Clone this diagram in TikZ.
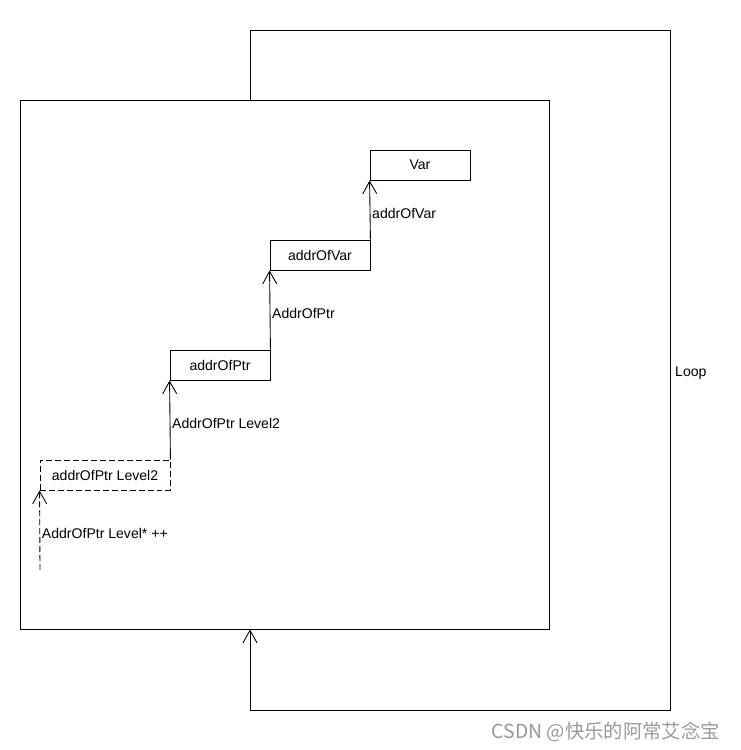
\documentclass[tikz,border=0pt]{standalone}
\usepackage{fontspec}
\setmainfont{Liberation Sans}
\newfontfamily\cjk{Noto Sans CJK SC}
\usetikzlibrary{arrows.meta}
\begin{document}
\begin{tikzpicture}[x=0.02cm,y=-0.02cm,line width=0.5pt,
        font=\fontsize{8}{10}\selectfont,
        box/.style={draw,rectangle,inner sep=0pt,minimum width=2cm,minimum height=0.6cm},
        link/.style={-{Straight Barb[length=0.25cm,width=0.28cm]}},
        lbl/.style={right,inner sep=1pt,yshift=-1.7pt}]
            \useasboundingbox (0,0) rectangle (740,750);
            \node[draw,rectangle,inner sep=0pt,minimum size=10.58cm] (body) at (284.5,364.5) {};
            \node[box] (var) at (420,165) {Var};
            \node[box] (avar) at (320,255) {addrOfVar};
            \node[box] (aptr) at (220,365) {addrOfPtr};
            \node[box,dash pattern=on 3.4pt off 1.7pt,minimum width=2.6cm] (aptr2) at (105,475) {addrOfPtr Level2};
            \coordinate (start) at (40,570);
            \coordinate (top) at (250,30);
            \coordinate (corner) at (670,710);
            
            \path[link] (avar.north east) edge node[lbl] {addrOfVar} (var.south west);
            \path[link] (aptr.north east) edge node[lbl] {AddrOfPtr} (avar.south west);
            \path[link] (aptr2.north east) edge node[lbl] {AddrOfPtr Level2} (aptr.south west);
            \path[link,dash pattern=on 3.4pt off 1.7pt] (start) edge node[lbl] {AddrOfPtr Level* ++} (aptr2.south west);
            \draw[link] (body.north -| top) -- (top) -| (corner) -| (body.south -| top);
            \node[right,inner sep=1pt] (looplbl) at (673,373) {Loop};
            \node[anchor=east,text=gray!80,font=\cjk\fontsize{11}{13}\selectfont] (mark) at (726,732) {CSDN @快乐的阿常艾念宝};
        \end{tikzpicture}
\end{document}
